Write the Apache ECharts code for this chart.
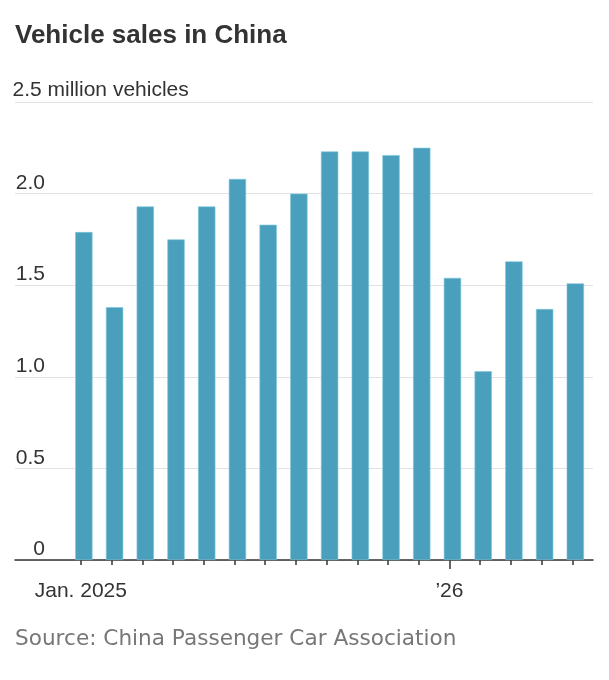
<!DOCTYPE html>
<html>
<head>
<meta charset="utf-8">
<title>Vehicle sales in China</title>
<script src="https://cdn.jsdelivr.net/npm/echarts@6/dist/echarts.min.js"></script>
<style>
    html, body { margin: 0; padding: 0; background: #fff; }
    #chart { width: 609px; height: 680px; }
</style>
</head>
<body>
<div id="chart"></div>
<script>
    // monthly sales, million vehicles
    var months = ['Jan. 2025', 'Feb. 2025', 'Mar. 2025', 'Apr. 2025', 'May 2025', 'Jun. 2025',
        'Jul. 2025', 'Aug. 2025', 'Sep. 2025', 'Oct. 2025', 'Nov. 2025', 'Dec. 2025',
        'Jan. 2026', 'Feb. 2026', 'Mar. 2026', 'Apr. 2026', 'May 2026'];
    var sales = [1.79, 1.38, 1.93, 1.75, 1.93, 2.08, 1.83, 2.00, 2.23, 2.23, 2.21, 2.25,
        1.54, 1.03, 1.63, 1.37, 1.51];
    var tickLabels = ['Jan. 2025', '', '', '', '', '', '', '', '', '', '', '',
        '\u201926', '', '', '', ''];
    var yTicks = [0, 0.5, 1.0, 1.5, 2.0, 2.5];
    var yUnit = ' million vehicles';

    var FONT = 'Liberation Sans, Arial, sans-serif';
    var TXT = '#333';

    function init_chart(){
        var chart = echarts.init(document.getElementById('chart'));
        var yMax = yTicks[yTicks.length - 1];
        var yStep = yTicks[1] - yTicks[0];
        var plotTop = 102, plotBottom = 120;

        var option = {
            animation: false,
            title: [{
                text: 'Vehicle sales in China',
                left: 15,
                top: 23,
                padding: 0,
                textStyle: { fontFamily: FONT, fontSize: 26, fontWeight: 'bold', color: TXT }
            }, {
                text: 'Source: China Passenger Car Association',
                left: 15,
                top: 628,
                padding: 0,
                textStyle: { fontFamily: 'DejaVu Sans, sans-serif', fontSize: 21.6, fontWeight: 'normal', color: '#777' }
            }],
            grid: [
                // gridlines, baseline, numeric labels
                { left: 15, right: 16, top: plotTop, bottom: plotBottom },
                // bars
                { left: 68.5, right: 18.3, top: plotTop, bottom: plotBottom },
                // month ticks + labels
                { left: 65.5, right: 21.3, top: plotTop, bottom: plotBottom },
                // long year tick
                { left: 65.5, right: 21.3, top: plotTop, bottom: plotBottom },
                // top unit label
                { left: 15, right: 16, top: plotTop, bottom: plotBottom }
            ],
            xAxis: [{
                gridIndex: 0, type: 'value', min: 0, max: 1,
                axisLine: { show: true, lineStyle: { color: TXT, width: 1.5 } },
                axisTick: { show: false }, axisLabel: { show: false }, splitLine: { show: false }
            }, {
                gridIndex: 1, type: 'category', data: months, boundaryGap: true,
                axisLine: { show: false }, axisTick: { show: false }, axisLabel: { show: false }
            }, {
                gridIndex: 2, type: 'category', data: months, boundaryGap: true,
                axisLine: { show: false },
                axisTick: { show: true, alignWithLabel: true, interval: 0, length: 5,
                    lineStyle: { color: TXT, width: 1.5 } },
                axisLabel: {
                    interval: 0, margin: 21, color: TXT, fontFamily: FONT, fontSize: 21,
                    formatter: function(v, i){ return tickLabels[i]; }
                }
            }, {
                gridIndex: 3, type: 'category', data: months, boundaryGap: true,
                axisLine: { show: false },
                axisTick: { show: true, alignWithLabel: true, length: 9,
                    interval: function(i){ return tickLabels[i] === '\u201926'; },
                    lineStyle: { color: TXT, width: 1.5 } },
                axisLabel: { show: false }
            }, {
                gridIndex: 4, type: 'value', min: 0, max: 1, show: false
            }],
            yAxis: [{
                gridIndex: 0, type: 'value', min: 0, max: yMax, interval: yStep,
                axisLine: { show: false }, axisTick: { show: false },
                splitLine: { show: true, lineStyle: { color: '#e2e2e2', width: 1.2 } },
                axisLabel: {
                    inside: true, align: 'right', verticalAlign: 'bottom', margin: 30,
                    padding: [0, 0, 0, 0],
                    color: TXT, fontFamily: FONT, fontSize: 21,
                    formatter: function(v){
                        if (v === yMax) return '';
                        return v === 0 ? '0' : v.toFixed(1);
                    }
                }
            }, {
                gridIndex: 1, type: 'value', min: 0, max: yMax, show: false
            }, {
                gridIndex: 2, type: 'value', min: 0, max: yMax, show: false
            }, {
                gridIndex: 3, type: 'value', min: 0, max: yMax, show: false
            }, {
                gridIndex: 4, type: 'value', min: 0, max: yMax, interval: yStep,
                axisLine: { show: false }, axisTick: { show: false }, splitLine: { show: false },
                axisLabel: {
                    inside: true, align: 'left', verticalAlign: 'bottom', margin: -2.5,
                    padding: [0, 0, 1, 0],
                    color: TXT, fontFamily: FONT, fontSize: 21,
                    formatter: function(v){
                        return v === yMax ? v.toFixed(1) + yUnit : '';
                    }
                }
            }],
            series: [{
                name: 'Vehicle sales',
                type: 'bar',
                xAxisIndex: 1,
                yAxisIndex: 1,
                barWidth: 17.3,
                itemStyle: { color: '#4aa0bc', borderColor: '#7cc6dc', borderWidth: 0.6 },
                data: sales
            }]
        };
        chart.setOption(option);
    }

    init_chart();
</script>
</body>
</html>
